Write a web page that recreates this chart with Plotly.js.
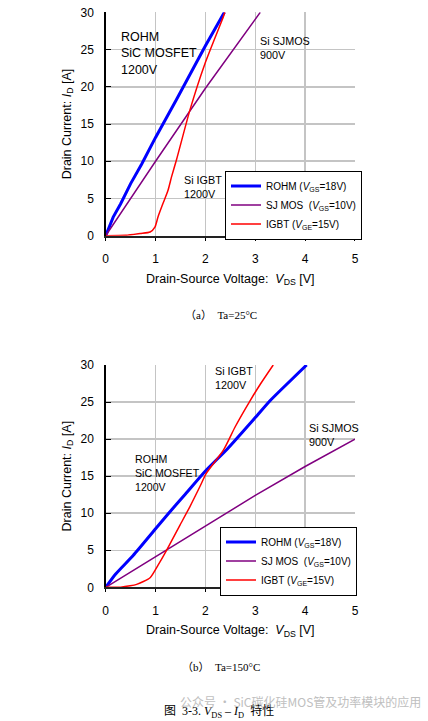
<!DOCTYPE html>
<html>
<head>
<meta charset="utf-8">
<script src="https://cdn.plot.ly/plotly-3.0.1.min.js"></script>
<style>
html,body{margin:0;padding:0;background:#fff;}
#chart{width:428px;height:721px;}
</style>
</head>
<body>
<div id="chart"></div>
<script>
// ---- Data: Ta = 25°C ----
const rohm25V = [0, 0.15, 0.3, 0.5, 0.72, 1.0, 1.42, 2.0, 2.38];
const rohm25I = [0, 2.5, 4.3, 7.0, 9.6, 13.2, 18.3, 25.5, 30];
const sj25V = [0, 1, 2, 3.1];
const sj25I = [0, 10, 19.8, 30];
const igbt25V = [0, 0.4, 0.69, 0.89, 0.99, 1.05, 1.15, 1.25, 1.32, 1.42, 1.69, 1.99, 2.36, 2.39];
const igbt25I = [0, 0.05, 0.3, 0.5, 1.2, 2.55, 4.35, 6.1, 7.9, 10.2, 16.9, 23.1, 29.4, 30];

// ---- Data: Ta = 150°C ----
const rohm150V = [0, 0.2, 0.55, 1.0, 1.25, 1.6, 2.0, 2.43, 3.0, 3.3, 3.6, 4.03];
const rohm150I = [0, 1.8, 4.3, 7.9, 9.9, 12.6, 15.7, 18.6, 22.9, 25.2, 27.2, 30];
const sj150V = [0, 1, 2, 3, 4, 5];
const sj150I = [0, 4.1, 8.2, 12.4, 16.3, 20];
const igbt150V = [0, 0.3, 0.49, 0.62, 0.89, 1.05, 1.22, 1.49, 1.69, 1.89, 2.02, 2.36, 2.6, 2.88, 3.12, 3.36];
const igbt150I = [0, 0.02, 0.2, 0.4, 1.3, 3.0, 5.0, 8.4, 10.9, 13.6, 15.4, 18.5, 21.7, 25, 27.6, 30];

// ---- Labels ----
const seriesNames = [
  'ROHM (<i>V</i><sub>GS</sub>=18V)',
  'SJ MOS&nbsp;&nbsp;(<i>V</i><sub>GS</sub>=10V)',
  'IGBT (<i>V</i><sub>GE</sub>=15V)'
];
const seriesColors = ['#0000ff', '#800080', '#ff0000'];
const seriesWidths = [3, 1.5, 1.5];
const xTickVals = [0, 1, 2, 3, 4, 5];
const yTickVals = [0, 5, 10, 15, 20, 25, 30];
const xTitle = 'Drain-Source Voltage:&nbsp; <i>V</i><sub>DS</sub> [V]';
const yTitle = 'Drain Current: <i>I</i><sub>D</sub> [A]';
const captionA = '（a）  Ta=25°C';
const captionB = '（b）  Ta=150°C';
const figCaption = '图  3-3. <i>V</i><sub>DS</sub> – <i>I</i><sub>D</sub>  特性';
const watermark = '公众号 · SiC碳化硅MOS管及功率模块的应用';

const SANS = 'Liberation Sans, Arial, sans-serif';
const SERIF = 'Liberation Serif, Times New Roman, Noto Sans CJK SC, serif';

function mk(xs, ys, k, xa, ya, lg, shape) {
  return {
    x: xs, y: ys, type: 'scatter', mode: 'lines',
    name: seriesNames[k], xaxis: xa, yaxis: ya, legend: lg,
    line: {color: seriesColors[k], width: seriesWidths[k], shape: shape || 'linear', smoothing: 0.6},
    hoverinfo: 'skip'
  };
}

const traces = [
  mk(rohm25V, rohm25I, 0, 'x', 'y', 'legend'),
  mk(sj25V, sj25I, 1, 'x', 'y', 'legend'),
  mk(igbt25V, igbt25I, 2, 'x', 'y', 'legend', 'spline'),
  mk(rohm150V, rohm150I, 0, 'x2', 'y2', 'legend2', 'spline'),
  mk(sj150V, sj150I, 1, 'x2', 'y2', 'legend2'),
  mk(igbt150V, igbt150I, 2, 'x2', 'y2', 'legend2', 'spline')
];

function xAx(anchor) {
  return {
    domain: [0.2470, 0.8294], anchor: anchor, range: [0, 5],
    tickvals: xTickVals, ticks: 'outside', ticklen: 3, tickcolor: '#000',
    ticklabelstandoff: 8,
    showgrid: true, gridcolor: '#c4c4c4', gridwidth: 1.5,
    showline: true, linecolor: '#222', linewidth: 2, zeroline: false,
    tickfont: {family: SANS, size: 12, color: '#000'},
    title: {text: xTitle, font: {family: SANS, size: 12.5, color: '#000'}, standoff: 9},
    automargin: false, fixedrange: true
  };
}
function yAx(anchor, dom) {
  return {
    domain: dom, anchor: anchor, range: [0, 30],
    tickvals: yTickVals, ticks: 'inside', ticklen: 5, tickcolor: '#000',
    ticklabelstandoff: 8,
    showgrid: true, gridcolor: '#c4c4c4', gridwidth: 1.5,
    showline: true, linecolor: '#000', linewidth: 1.5, zeroline: false,
    tickfont: {family: SANS, size: 12, color: '#000'},
    title: {text: yTitle, font: {family: SANS, size: 12.5, color: '#000'}, standoff: 6},
    automargin: false, fixedrange: true
  };
}

function lab(text, x, y, xr, yr, size) {
  return {text: text, x: x, y: y, xref: xr, yref: yr, showarrow: false,
    xanchor: 'left', yanchor: 'middle', align: 'left',
    font: {family: SANS, size: size, color: '#000'}};
}

const annotations = [
  lab('ROHM<br>SiC MOSFET<br>1200V', 0.27, 24.5, 'x', 'y', 12.5),
  lab('Si SJMOS<br>900V', 3.06, 25.2, 'x', 'y', 10.8),
  lab('Si IGBT<br>1200V', 1.54, 6.6, 'x', 'y', 10.8),
  lab('Si IGBT<br>1200V', 2.16, 28.2, 'x2', 'y2', 10.8),
  lab('Si SJMOS<br>900V', 4.04, 20.55, 'x2', 'y2', 10.8),
  lab('ROHM<br>SiC MOSFET<br>1200V', 0.55, 15.47, 'x2', 'y2', 10.6),
  {text: captionA, x: 0.516, y: 1 - 315/721, xref: 'paper', yref: 'paper', showarrow: false,
   xanchor: 'center', yanchor: 'middle', font: {family: SERIF, size: 11, color: '#000'}},
  {text: captionB, x: 0.516, y: 1 - 667/721, xref: 'paper', yref: 'paper', showarrow: false,
   xanchor: 'center', yanchor: 'middle', font: {family: SERIF, size: 11, color: '#000'}},
  {text: figCaption, x: 0.512, y: 1 - 711/721, xref: 'paper', yref: 'paper', showarrow: false,
   xanchor: 'center', yanchor: 'middle', font: {family: SERIF, size: 12, color: '#000'}},
  {text: watermark, x: 178/428, y: 1 - 701/721, xref: 'paper', yref: 'paper', showarrow: false,
   xanchor: 'left', yanchor: 'middle', opacity: 0.75,
   font: {family: 'Noto Sans CJK SC, sans-serif', size: 12, color: '#aaaaaa'}}
];

function leg(x, y, xa) {
  return {x: x, y: y, xref: 'paper', yref: 'paper', xanchor: xa, yanchor: 'middle',
    bgcolor: '#ffffff', bordercolor: '#000', borderwidth: 1,
    font: {family: SANS, size: 10, color: '#000'}, itemwidth: 30, tracegroupgap: 0,
    itemclick: false, itemdoubleclick: false};
}

const layout = {
  width: 428, height: 721,
  margin: {l: 0, r: 0, t: 0, b: 0},
  paper_bgcolor: '#fff', plot_bgcolor: '#fff',
  showlegend: true,
  xaxis: xAx('y'),
  yaxis: yAx('x', [0.6731, 0.9829]),
  xaxis2: xAx('y2'),
  yaxis2: yAx('x2', [0.1854, 0.4938]),
  legend: leg(225/428, 1 - 205/721, 'left'),
  legend2: leg(357/428, 1 - 561/721, 'right'),
  annotations: annotations
};

Plotly.newPlot('chart', traces, layout, {staticPlot: true, displayModeBar: false});
</script>
</body>
</html>
